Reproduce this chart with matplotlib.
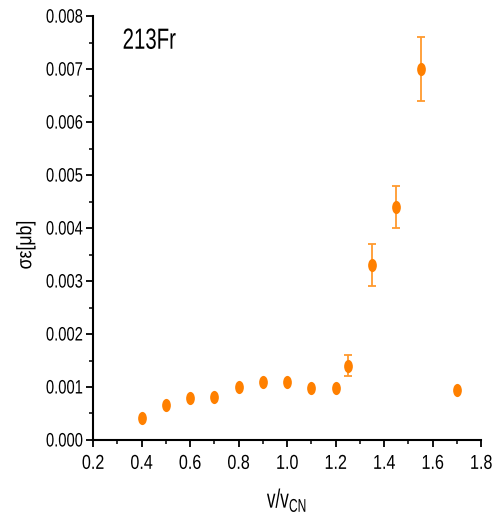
import matplotlib
matplotlib.use("Agg")
import matplotlib.pyplot as plt
from matplotlib.path import Path
from matplotlib.transforms import Affine2D
from matplotlib.patheffects import AbstractPathEffect

plt.rcParams["font.family"] = ["Liberation Sans", "DejaVu Sans"]
plt.rcParams["mathtext.fontset"] = "custom"
plt.rcParams["mathtext.rm"] = "Liberation Sans"
plt.rcParams["mathtext.it"] = "Liberation Sans"

# ratio v/V_CN and measured sigma*epsilon
ratio = [0.4, 0.5, 0.6, 0.7, 0.8, 0.9, 1.0, 1.1, 1.2, 1.25, 1.35, 1.45, 1.55, 1.7]
sigma_eps = [0.00042, 0.00066, 0.00079, 0.00082, 0.00100, 0.00110, 0.00110,
             0.00098, 0.00099, 0.00140, 0.00330, 0.00440, 0.00700, 0.00095]
sigma_err = [0, 0, 0, 0, 0, 0, 0, 0, 0, 0.0002, 0.0004, 0.0004, 0.0006, 0]

x_ticks = [0.2, 0.4, 0.6, 0.8, 1.0, 1.2, 1.4, 1.6, 1.8]
y_ticks = [0.000, 0.001, 0.002, 0.003, 0.004, 0.005, 0.006, 0.007, 0.008]

orange = "#FF8000"
err_orange = "#FF9A2E"


class Condensed(AbstractPathEffect):
    """Squeeze text horizontally about a chosen anchor (left/center/right)."""

    def __init__(self, factor=0.78, anchor="center"):
        super().__init__()
        self.factor = factor
        self.anchor = anchor

    def draw_path(self, renderer, gc, tpath, affine, rgbFace=None):
        ext = tpath.transformed(affine).get_extents()
        if self.anchor == "right":
            cx = ext.x1
        elif self.anchor == "left":
            cx = ext.x0
        else:
            cx = 0.5 * (ext.x0 + ext.x1)
        squeeze = Affine2D().translate(-cx, 0).scale(self.factor, 1).translate(cx, 0)
        renderer.draw_path(gc, tpath, affine + squeeze, rgbFace)


class CondensedVertical(AbstractPathEffect):
    """Squeeze rotated (vertical) text along its reading direction."""

    def __init__(self, factor=0.85):
        super().__init__()
        self.factor = factor

    def draw_path(self, renderer, gc, tpath, affine, rgbFace=None):
        ext = tpath.transformed(affine).get_extents()
        cy = 0.5 * (ext.y0 + ext.y1)
        squeeze = Affine2D().translate(0, -cy).scale(1, self.factor).translate(0, cy)
        renderer.draw_path(gc, tpath, affine + squeeze, rgbFace)


# slightly tall elliptical marker
ellipse = Path.unit_circle().transformed(Affine2D().scale(0.66, 1.0))

fig = plt.figure(figsize=(4.95, 5.21), dpi=100)
ax = fig.add_axes([0.188, 0.1555, 0.784, 0.8135])

err_x = [x for x, e in zip(ratio, sigma_err) if e > 0]
err_y = [y for y, e in zip(sigma_eps, sigma_err) if e > 0]
err_v = [e for e in sigma_err if e > 0]
ax.errorbar(err_x, err_y, yerr=err_v, fmt="none", ecolor=err_orange,
            elinewidth=1.3, capsize=3, capthick=1.3, zorder=2)
ax.plot(ratio, sigma_eps, linestyle="none", marker=ellipse, markersize=9.5,
        color=orange, markeredgewidth=0, zorder=3)

ax.set_xlim(0.2, 1.8)
ax.set_ylim(0.0, 0.008)
ax.set_xticks(x_ticks)
ax.set_xticklabels([f"{v:.1f}" for v in x_ticks])
ax.set_yticks(y_ticks)
ax.set_yticklabels([f"{v:.3f}" for v in y_ticks])
ax.set_xticks([0.3 + 0.2 * i for i in range(8)], minor=True)
ax.set_yticks([0.0005 + 0.001 * i for i in range(8)], minor=True)

for side in ("top", "right"):
    ax.spines[side].set_visible(False)
for side in ("left", "bottom"):
    ax.spines[side].set_linewidth(1.5)

ax.tick_params(which="major", direction="out", length=5, width=1.3)
ax.tick_params(axis="y", which="major", labelsize=14, pad=2)
ax.tick_params(axis="x", which="major", labelsize=14.5, pad=5)
ax.tick_params(which="minor", direction="out", length=3, width=1.1)

for lab in ax.get_yticklabels():
    lab.set_path_effects([Condensed(0.76, "right")])
for lab in ax.get_xticklabels():
    lab.set_path_effects([Condensed(0.8, "center")])

xl = ax.set_xlabel(r"v/v$_{\rm CN}$", fontsize=19, labelpad=10)
xl.set_path_effects([Condensed(0.65, "center")])
yl = ax.set_ylabel("σε[μb]", fontsize=15)
yl.set_path_effects([CondensedVertical(0.85)])
ax.yaxis.set_label_coords(-0.149, 0.46)

t = ax.text(0.075, 0.975, "213Fr", transform=ax.transAxes, fontsize=21,
            ha="left", va="top")
t.set_path_effects([Condensed(0.7, "left")])

fig.savefig("out.png", dpi=100)
